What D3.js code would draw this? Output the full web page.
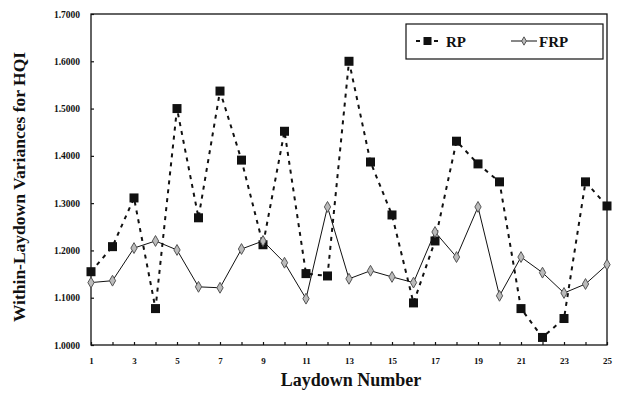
<!DOCTYPE html>
<html>
<head>
<meta charset="utf-8">
<script src="https://cdn.jsdelivr.net/npm/d3@7"></script>
<style>
html,body{margin:0;padding:0;background:#fff;}
svg{display:block;}
text{font-family:"Liberation Serif","Times New Roman",serif;font-weight:bold;fill:#111;}
</style>
</head>
<body>
<svg id="chart" width="618" height="394"></svg>
<script>
const laydowns = d3.range(1, 26);
const rpValues = [1.155,1.208,1.311,1.077,1.500,1.269,1.537,1.391,1.212,1.452,1.151,1.146,1.600,1.387,1.275,1.089,1.220,1.431,1.383,1.345,1.077,1.016,1.056,1.345,1.294];
const frpValues = [1.132,1.136,1.205,1.220,1.201,1.123,1.121,1.203,1.220,1.174,1.098,1.292,1.140,1.157,1.144,1.132,1.239,1.186,1.292,1.104,1.186,1.153,1.110,1.129,1.170];
const xTickLabels = [1,3,5,7,9,11,13,15,17,19,21,23,25];
const yTickLabels = [1.0,1.1,1.2,1.3,1.4,1.5,1.6,1.7];
const seriesNames = ["RP","FRP"];

const svg = d3.select("#chart");
const L = 91, R = 607, T = 14, B = 345;
const x = d3.scaleLinear().domain([1,25]).range([L,R]);
const y = d3.scaleLinear().domain([1.0,1.7]).range([B,T]);

// frame
svg.append("rect").attr("x",L).attr("y",T).attr("width",R-L).attr("height",B-T)
  .attr("fill","none").attr("stroke","#111").attr("stroke-width",1.3);

// y axis
const yAxis = d3.axisLeft(y).tickValues(yTickLabels).tickFormat(d3.format(".4f")).tickSize(-3).tickPadding(11);
const gy = svg.append("g").attr("transform",`translate(${L},0)`).call(yAxis);
gy.select(".domain").remove();
gy.selectAll("line").attr("stroke","#111").attr("stroke-width",1.2);
gy.selectAll("text").style("font-size","9.5px").attr("fill","#111");

// x axis
const xAxis = d3.axisBottom(x).tickValues(laydowns).tickFormat(d => xTickLabels.includes(d) ? d : "").tickSize(-3).tickPadding(13);
const gx = svg.append("g").attr("transform",`translate(0,${B})`).call(xAxis);
gx.select(".domain").remove();
gx.selectAll("line").attr("stroke","#111").attr("stroke-width",1.2);
gx.selectAll("text").style("font-size","9px").attr("fill","#111");

// titles
svg.append("text").attr("x",351).attr("y",386).attr("text-anchor","middle")
  .style("font-size","18px").text("Laydown Number");
svg.append("text").attr("transform",`translate(25,187) rotate(-90)`).attr("text-anchor","middle")
  .style("font-size","17.5px").text("Within-Laydown Variances for HQI");

// lines
const line = d3.line().x((d,i)=>x(laydowns[i])).y(d=>y(d));
svg.append("path").datum(rpValues).attr("d",line).attr("fill","none")
  .attr("stroke","#111").attr("stroke-width",2).attr("stroke-dasharray","4,5");
svg.append("path").datum(frpValues).attr("d",line).attr("fill","none")
  .attr("stroke","#111").attr("stroke-width",1);

// markers
svg.append("g").selectAll("rect").data(rpValues).join("rect")
  .attr("x",(d,i)=>x(laydowns[i])-4.5).attr("y",d=>y(d)-4.5)
  .attr("width",9).attr("height",9).attr("fill","#111");
const diamond = d3.symbol().type(d3.symbolDiamond).size(34);
svg.append("g").selectAll("path").data(frpValues).join("path")
  .attr("d",diamond).attr("transform",(d,i)=>`translate(${x(laydowns[i])},${y(d)})`)
  .attr("fill","#bbb").attr("stroke","#555").attr("stroke-width",1);

// legend
const lg = svg.append("g");
lg.append("rect").attr("x",406).attr("y",24).attr("width",197).attr("height",35)
  .attr("fill","#fff").attr("stroke","#111").attr("stroke-width",1.2);
lg.append("line").attr("x1",416).attr("x2",438).attr("y1",41).attr("y2",41)
  .attr("stroke","#111").attr("stroke-width",2).attr("stroke-dasharray","4,5");
lg.append("rect").attr("x",423.5).attr("y",37).attr("width",8).attr("height",8).attr("fill","#111");
lg.append("text").attr("x",446).attr("y",47).style("font-size","15px").text(seriesNames[0]);
lg.append("line").attr("x1",511).attr("x2",537).attr("y1",41).attr("y2",41)
  .attr("stroke","#111").attr("stroke-width",1);
lg.append("path").attr("d",d3.symbol().type(d3.symbolDiamond).size(20)).attr("transform","translate(524,41)")
  .attr("fill","#bbb").attr("stroke","#555").attr("stroke-width",1);
lg.append("text").attr("x",539).attr("y",47).style("font-size","15px").text(seriesNames[1]);
</script>
</body>
</html>
